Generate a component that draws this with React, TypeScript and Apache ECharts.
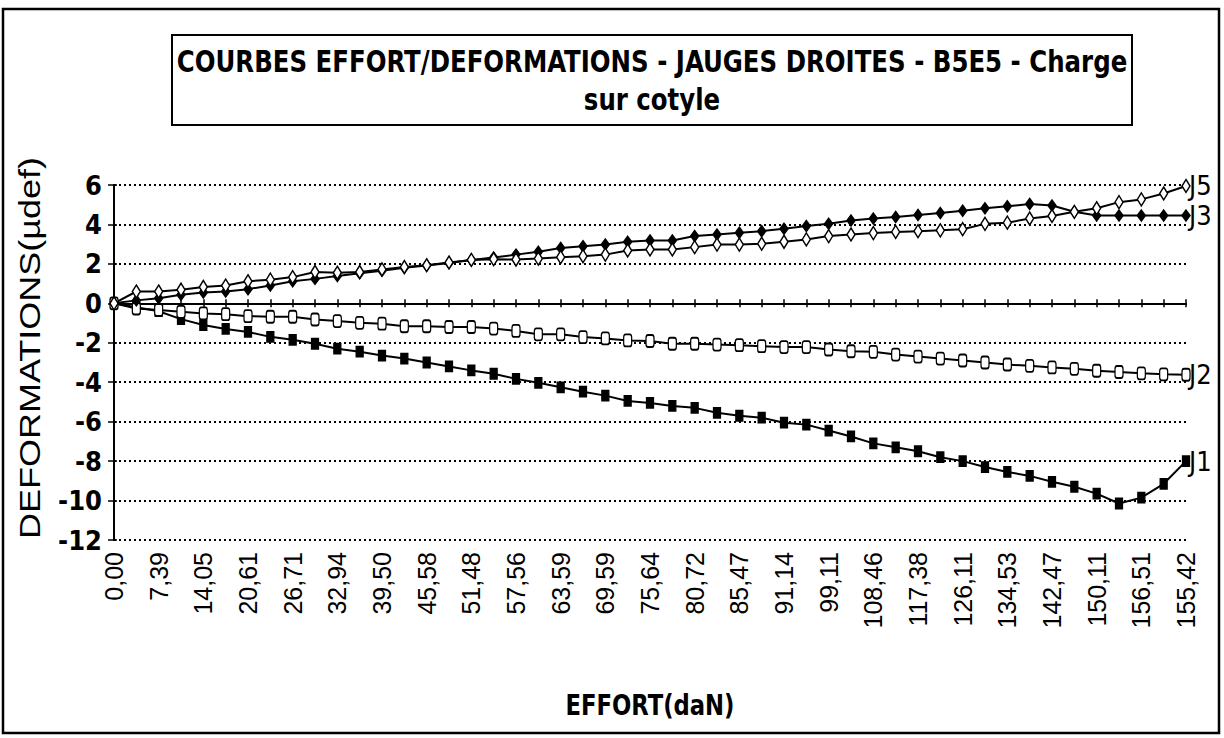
import React, { useEffect, useRef } from "react";
import * as echarts from "echarts";

const effortLabels = [
  "0,00", "7,39", "14,05", "20,61", "26,71", "32,94", "39,50", "45,58", "51,48",
  "57,56", "63,59", "69,59", "75,64", "80,72", "85,47", "91,14", "99,11",
  "108,46", "117,38", "126,11", "134,53", "142,47", "150,11", "156,51", "155,42",
];

// 49 measurement points; only every second one carries a printed label
const categories: string[] = [];
effortLabels.forEach((l, k) => {
  categories.push(l);
  if (k < effortLabels.length - 1) categories.push("");
});

const yTicks = { min: -12, max: 6, step: 2 };

const J1 = [
  0, -0.2, -0.4, -0.8, -1.1, -1.3, -1.45, -1.7, -1.85, -2.05, -2.3, -2.45, -2.65, -2.8, -3.0, -3.2, -3.4,
  -3.57, -3.83, -4.03, -4.26, -4.48, -4.68, -4.95, -5.05, -5.2, -5.3, -5.55, -5.7, -5.8, -6.05, -6.15,
  -6.45, -6.75, -7.1, -7.3, -7.5, -7.8, -8.0, -8.3, -8.55, -8.75, -9.05, -9.3, -9.65, -10.15, -9.85,
  -9.15, -8.0,
];
const J2 = [
  0, -0.26, -0.34, -0.43, -0.51, -0.55, -0.65, -0.68, -0.68, -0.82, -0.9, -0.99, -1.03, -1.16, -1.16,
  -1.2, -1.2, -1.28, -1.4, -1.57, -1.57, -1.71, -1.78, -1.88, -1.91, -2.05, -2.05, -2.09, -2.12, -2.17,
  -2.22, -2.22, -2.34, -2.43, -2.46, -2.6, -2.7, -2.8, -2.9, -3.0, -3.1, -3.17, -3.25, -3.32, -3.42,
  -3.48, -3.55, -3.6, -3.62,
];
const J3 = [
  0, 0.15, 0.26, 0.43, 0.55, 0.6, 0.72, 0.9, 1.12, 1.24, 1.38, 1.52, 1.65, 1.8, 1.92, 2.05, 2.2, 2.32,
  2.47, 2.61, 2.81, 2.9, 2.98, 3.12, 3.19, 3.19, 3.41, 3.49, 3.58, 3.66, 3.78, 3.92, 4.03, 4.2, 4.3,
  4.38, 4.48, 4.58, 4.7, 4.82, 4.92, 5.04, 4.96, 4.64, 4.45, 4.45, 4.45, 4.45, 4.45,
];
const J5 = [
  0, 0.6, 0.6, 0.69, 0.83, 0.9, 1.12, 1.2, 1.33, 1.59, 1.55, 1.59, 1.72, 1.84, 1.93, 2.07, 2.2, 2.24,
  2.22, 2.27, 2.34, 2.39, 2.47, 2.68, 2.73, 2.73, 2.85, 2.98, 2.98, 3.02, 3.12, 3.24, 3.41, 3.49, 3.56,
  3.62, 3.66, 3.7, 3.76, 4.03, 4.09, 4.3, 4.43, 4.64, 4.82, 5.13, 5.27, 5.57, 5.95,
];

const titleLine1 = "COURBES EFFORT/DEFORMATIONS - JAUGES DROITES - B5E5 - Charge";
const titleLine2 = "sur cotyle";
const yName = "DEFORMATIONS(µdef)";
const xName = "EFFORT(daN)";

const NARROW = "'Liberation Sans Narrow', 'Arial Narrow', 'DejaVu Sans Condensed', sans-serif";
const SANS = "'Liberation Sans', Arial, 'DejaVu Sans', sans-serif";

export default function App() {
  const ref = useRef<HTMLDivElement>(null);

  useEffect(() => {
    if (!ref.current) return;
    const chart = echarts.init(ref.current, null, { renderer: "svg" });

    const mk = (
      name: string,
      data: number[],
      symbol: string,
      size: number[],
      fill: string
    ) => ({
      name,
      type: "line",
      xAxisIndex: 0,
      yAxisIndex: 0,
      data,
      symbol,
      symbolSize: size,
      showAllSymbol: true,
      lineStyle: { color: "#000", width: 2 },
      itemStyle: { color: fill, borderColor: "#000", borderWidth: 1.5 },
      endLabel: {
        show: true,
        formatter: "{a}",
        distance: 3,
        fontSize: 27,
        fontFamily: NARROW,
        color: "#000",
      },
      emphasis: { disabled: true },
    });

    const catAxisBase = {
      type: "category",
      data: categories,
      boundaryGap: false,
      splitLine: { show: false },
    };

    chart.setOption({
      animation: false,
      backgroundColor: "#fff",
      grid: { left: 114, right: 38, top: 185, bottom: 198, containLabel: false },
      xAxis: [
        {
          ...catAxisBase,
          position: "bottom",
          axisLine: { show: false, onZero: false },
          axisTick: { show: false },
          axisLabel: {
            interval: 1,
            rotate: 90,
            fontSize: 25,
            fontFamily: SANS,
            color: "#000",
            margin: 12,
          },
        },
        {
          ...catAxisBase,
          position: "bottom",
          axisLine: { show: true, onZero: true, lineStyle: { color: "#000", width: 2 } },
          axisTick: { show: true, interval: 0, length: 4, lineStyle: { color: "#000", width: 1.5 } },
          axisLabel: { show: false },
        },
        {
          ...catAxisBase,
          position: "top",
          axisLine: { show: true, onZero: true, lineStyle: { color: "#000", width: 2 } },
          axisTick: { show: true, interval: 0, length: 4, lineStyle: { color: "#000", width: 1.5 } },
          axisLabel: { show: false },
        },
      ],
      yAxis: [
        {
          type: "value",
          position: "left",
          min: yTicks.min,
          max: yTicks.max,
          interval: yTicks.step,
          axisLine: { show: true, lineStyle: { color: "#000", width: 2 } },
          axisTick: { show: true, length: 6, lineStyle: { color: "#000", width: 1.5 } },
          axisLabel: {
            fontSize: 27,
            fontWeight: "bold",
            fontFamily: NARROW,
            color: "#000",
            margin: 12,
          },
          splitLine: {
            show: true,
            lineStyle: { color: "#000", width: 2, type: [2, 3] },
          },
        },
        {
          type: "value",
          position: "left",
          min: yTicks.min,
          max: yTicks.max,
          interval: yTicks.step,
          axisLine: { show: false },
          axisTick: { show: true, inside: true, length: 3, lineStyle: { color: "#000", width: 1.5 } },
          axisLabel: { show: false },
          splitLine: { show: false },
        },
      ],
      series: [
        mk("J1", J1, "rect", [7, 10], "#000"),
        mk("J2", J2, "roundRect", [8, 12], "#fff"),
        mk("J3", J3, "diamond", [8, 11], "#000"),
        mk("J5", J5, "diamond", [8, 13], "#fff"),
      ],
      graphic: [
        {
          type: "rect",
          shape: { x: 3, y: 9, width: 1216, height: 724 },
          style: { fill: "none", stroke: "#000", lineWidth: 2.5 },
          silent: true,
        },
        {
          type: "rect",
          shape: { x: 172, y: 35, width: 960, height: 90 },
          style: { fill: "#fff", stroke: "#000", lineWidth: 2 },
          silent: true,
        },
        {
          type: "text",
          x: 652,
          y: 62,
          scaleX: 0.906,
          style: {
            text: titleLine1,
            font: `bold 30px ${NARROW}`,
            fill: "#000",
            align: "center",
            verticalAlign: "middle",
          },
        },
        {
          type: "text",
          x: 652,
          y: 100,
          scaleX: 0.906,
          style: {
            text: titleLine2,
            font: `bold 30px ${NARROW}`,
            fill: "#000",
            align: "center",
            verticalAlign: "middle",
          },
        },
        {
          type: "text",
          x: 30,
          y: 348,
          rotation: Math.PI / 2,
          scaleX: 1.2,
          style: {
            text: yName,
            font: `30px ${SANS}`,
            fill: "#000",
            align: "center",
            verticalAlign: "middle",
          },
        },
        {
          type: "text",
          x: 650,
          y: 705,
          scaleX: 0.87,
          style: {
            text: xName,
            font: `bold 29px ${NARROW}`,
            fill: "#000",
            align: "center",
            verticalAlign: "middle",
          },
        },
      ],
    });

    return () => chart.dispose();
  }, []);

  return (
    <div
      ref={ref}
      style={{ position: "fixed", left: 0, top: 0, width: 1224, height: 738, background: "#fff" }}
    />
  );
}
